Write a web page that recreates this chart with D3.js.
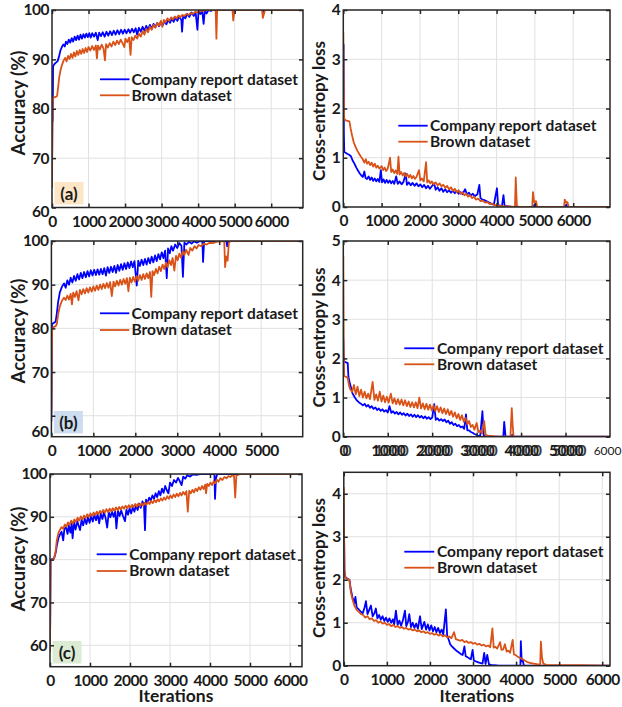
<!DOCTYPE html>
<html>
<head>
<meta charset="utf-8">
<script src="https://cdn.jsdelivr.net/npm/d3@7"></script>
<style>
  body { margin: 0; background: #fff; }
  svg text { font-family: Lato, "Open Sans", sans-serif; font-weight: bold; fill: #1a1a1a; }
</style>
</head>
<body>
<svg id="chart" width="622" height="707"></svg>
<script>
//series names + colours (legend order)
var seriesNames = ['Company report dataset', 'Brown dataset'];
var seriesColors = ['#0000ff', '#d95319'];

//tick values
var accTicks = [60, 70, 80, 90, 100];
var lossTicks4 = [0, 1, 2, 3, 4];
var lossTicks5 = [0, 1, 2, 3, 4, 5];
var iterTicks6 = [0, 1000, 2000, 3000, 4000, 5000, 6000];
var iterTicks5 = [0, 1000, 2000, 3000, 4000, 5000];
var iterTicksExtra = [6000];

//data: [iteration, value] --------------------------------------------------------

// (a) accuracy
var accACompany = [[0,64],[10,79],[20,77.5],[30,88.6],[60,89],[100,89.3],[150,89.6],[190,90.5],[230,91.8],[270,92.5],[310,93],[350,92.6],[380,93.6],[420,93.1],[460,94],[500,93.4],[540,94.3],[580,93.6],[620,94.6],[660,93.9],[700,94.8],[740,94],[780,95],[820,94.2],[860,95.1],[900,94.4],[940,95.2],[980,94.5],[1020,95.3],[1060,94.4],[1100,95.3],[1150,94.6],[1200,95.4],[1250,93.9],[1290,95.4],[1340,94.7],[1390,95.5],[1440,94.6],[1490,95.6],[1540,94.8],[1590,95.7],[1640,94.9],[1690,95.8],[1740,95],[1790,95.9],[1840,95.1],[1890,96],[1940,95.2],[1990,96],[2040,95.3],[2090,96.1],[2140,95.4],[2190,96.2],[2240,95.5],[2290,96.3],[2330,95],[2380,96.4],[2430,95.6],[2480,96.6],[2530,95.8],[2580,96.8],[2630,96],[2680,97],[2730,96.2],[2780,97.2],[2830,96.5],[2880,97.4],[2930,96.7],[2980,97.6],[3030,96.9],[3080,97.8],[3130,97.1],[3180,98],[3230,97.4],[3280,98.3],[3330,97.6],[3380,98.5],[3430,97.8],[3480,98.7],[3540,98],[3560,95.6],[3590,98.8],[3650,98.3],[3700,99.2],[3760,98.6],[3820,99.5],[3880,98.8],[3930,99.6],[3980,96],[4010,99.7],[4060,99.2],[4110,99.8],[4150,97.2],[4180,99.8],[4230,99.3],[4280,100],[4350,99.8],[4400,100],[4950,100],[4970,99.5],[5000,100],[5760,100],[5780,99.5],[5810,100],[6870,100]];
var accABrown = [[0,64],[10,75],[20,82],[60,82.3],[100,82.4],[140,82.6],[170,84.5],[200,86.5],[240,88],[280,89],[320,89.8],[360,90.3],[400,89.6],[440,90.7],[480,90.1],[520,91.1],[560,90.3],[600,91.4],[640,90.6],[680,91.7],[720,90.9],[760,91.9],[800,91.1],[840,92.1],[880,91.3],[920,92.3],[960,91.5],[1000,92.5],[1050,91.8],[1100,92.7],[1150,91.9],[1200,92.8],[1230,90.2],[1260,92.8],[1310,92],[1360,93],[1410,92.2],[1450,89.8],[1480,93.1],[1530,92.4],[1580,93.3],[1630,92.6],[1680,93.6],[1730,92.9],[1780,93.8],[1830,93.1],[1880,94],[1930,93.3],[1980,92.5],[2010,94.2],[2060,93.5],[2110,94.4],[2150,90.9],[2180,94.5],[2230,93.9],[2280,94.8],[2330,94.2],[2380,95.2],[2430,94.6],[2480,95.7],[2530,95],[2580,96.2],[2630,95.5],[2680,96.6],[2730,96],[2780,97],[2830,96.4],[2880,97.4],[2930,96.8],[2980,97.8],[3020,96.6],[3060,98],[3110,97.5],[3160,98.3],[3210,97.8],[3260,98.5],[3310,98.1],[3360,98.7],[3410,98.3],[3460,98.9],[3510,98.5],[3560,99],[3620,98.8],[3680,99.2],[3740,99],[3800,99.4],[3860,99.2],[3920,99.6],[3980,99.5],[4050,99.8],[4150,99.9],[4250,100],[4480,100],[4500,94.2],[4520,100],[4940,100],[4960,97.9],[4990,99.6],[5010,100],[5750,100],[5770,98.4],[5800,99.2],[5830,100],[6870,100]];

// (a) loss
var lossACompany = [[0,2.3],[8,3.3],[15,1.5],[25,1.12],[60,1.1],[100,1.08],[150,1.06],[200,1.03],[240,0.95],[290,0.88],[340,0.8],[390,0.73],[430,0.68],[470,0.64],[510,0.61],[550,0.72],[580,0.59],[620,0.57],[660,0.62],[700,0.55],[740,0.6],[780,0.53],[820,0.58],[860,0.52],[900,0.57],[940,0.51],[980,0.75],[1010,0.5],[1050,0.56],[1090,0.49],[1130,0.55],[1170,0.49],[1210,0.54],[1250,0.48],[1290,0.53],[1330,0.47],[1380,0.62],[1420,0.47],[1470,0.52],[1520,0.46],[1570,0.51],[1630,0.68],[1660,0.45],[1710,0.5],[1760,0.44],[1810,0.49],[1860,0.43],[1910,0.48],[1960,0.42],[2010,0.46],[2060,0.4],[2110,0.45],[2160,0.38],[2210,0.43],[2260,0.37],[2310,0.42],[2370,0.48],[2410,0.35],[2460,0.4],[2510,0.33],[2560,0.38],[2610,0.31],[2660,0.36],[2710,0.3],[2760,0.34],[2810,0.29],[2860,0.33],[2910,0.28],[2960,0.32],[3010,0.27],[3060,0.3],[3110,0.26],[3180,0.36],[3230,0.25],[3280,0.29],[3330,0.23],[3380,0.27],[3430,0.22],[3500,0.26],[3550,0.45],[3580,0.18],[3630,0.15],[3680,0.14],[3730,0.12],[3780,0.1],[3830,0.08],[3870,0.06],[3930,0.05],[4010,0.38],[4040,0.04],[4090,0.03],[4140,0.02],[4180,0.24],[4210,0.02],[4300,0.01],[4400,0],[4970,0],[4990,0.05],[5010,0],[5800,0],[5820,0.05],[5840,0],[6960,0]];
var lossABrown = [[0,3.55],[10,2.5],[20,1.8],[60,1.76],[110,1.75],[160,1.74],[190,1.6],[230,1.45],[270,1.32],[320,1.22],[370,1.14],[420,1.07],[460,1.02],[500,0.98],[550,0.9],[590,0.97],[620,0.88],[660,0.92],[700,0.85],[740,0.9],[780,0.82],[820,0.88],[860,0.8],[900,0.84],[940,0.78],[1000,0.83],[1040,0.75],[1080,0.8],[1120,0.73],[1160,0.78],[1220,1.0],[1250,0.71],[1290,0.76],[1330,0.69],[1370,0.74],[1410,0.67],[1440,1.02],[1470,0.66],[1510,0.71],[1550,0.64],[1590,0.69],[1630,0.62],[1670,0.67],[1710,0.6],[1750,0.65],[1790,0.58],[1830,0.63],[1870,0.57],[1910,0.61],[1975,0.75],[2010,0.54],[2050,0.58],[2100,0.52],[2160,0.91],[2190,0.5],[2230,0.54],[2270,0.48],[2310,0.52],[2360,0.46],[2410,0.5],[2460,0.44],[2510,0.48],[2560,0.42],[2610,0.45],[2660,0.39],[2710,0.43],[2760,0.36],[2810,0.4],[2860,0.33],[2910,0.37],[2960,0.3],[3010,0.34],[3060,0.27],[3110,0.3],[3160,0.24],[3210,0.27],[3260,0.21],[3310,0.24],[3360,0.18],[3410,0.21],[3460,0.15],[3520,0.17],[3580,0.12],[3640,0.13],[3700,0.09],[3760,0.1],[3820,0.06],[3880,0.07],[3940,0.04],[4000,0.04],[4100,0.02],[4200,0.01],[4300,0.01],[4480,0],[4500,0.6],[4530,0.02],[4600,0],[4930,0],[4950,0.3],[4980,0.1],[5030,0.12],[5060,0],[5760,0],[5780,0.15],[5820,0.09],[5850,0.1],[5880,0],[6960,0]];

// (b) accuracy
var accBCompany = [[0,58.7],[8,70],[15,81],[50,81.2],[100,81.5],[130,83.5],[160,86],[200,88.2],[250,89.5],[300,90.3],[340,89.3],[380,91],[420,90],[460,91.6],[500,90.5],[540,92],[580,90.9],[620,92.4],[660,91.2],[700,92.7],[740,91.5],[780,92.9],[820,91.7],[860,93.1],[900,91.9],[940,93.3],[980,92.1],[1020,93.4],[1060,92.2],[1100,93.5],[1140,92.3],[1180,93.6],[1220,92.4],[1260,93.8],[1300,92.1],[1340,94],[1380,92.7],[1420,94.1],[1460,92.9],[1500,94.3],[1540,92.7],[1580,94.5],[1620,93.2],[1660,94.7],[1700,93.4],[1740,94.9],[1780,93.6],[1820,95.1],[1860,93.8],[1900,95.3],[1940,94],[1980,95.4],[2035,89.8],[2070,95.5],[2110,94.3],[2150,95.7],[2190,94.5],[2230,95.9],[2270,94.6],[2310,96.1],[2350,94.9],[2390,96.4],[2430,95.1],[2470,96.7],[2510,95.4],[2550,97],[2590,95.8],[2630,97.4],[2670,96.1],[2710,97.8],[2750,91.5],[2780,98.3],[2820,97.2],[2860,98.8],[2900,97.8],[2950,99.2],[3000,98.4],[3050,99.5],[3100,98.9],[3135,91.8],[3170,99.6],[3220,99.2],[3280,99.8],[3340,99.4],[3400,99.9],[3470,99.6],[3540,100],[3600,99.8],[3615,95.2],[3640,100],[4170,100],[4190,98.8],[4210,100],[5990,100]];
var accBBrown = [[0,60.6],[8,70],[15,79.5],[50,80.3],[100,80.5],[130,81],[160,83.2],[200,85],[250,86.3],[300,87],[340,86.5],[380,87.5],[420,86.6],[460,87.9],[490,85.5],[520,88.2],[560,87.2],[600,88.5],[645,86.4],[680,88.8],[720,87.8],[760,89],[800,88],[840,89.2],[880,88.2],[920,89.4],[960,88.4],[1000,89.6],[1040,88.6],[1080,89.8],[1120,88.8],[1160,90],[1200,89],[1240,90.2],[1280,89.2],[1320,90.4],[1360,89.3],[1400,90.6],[1440,87.4],[1480,90.7],[1520,89.6],[1560,90.9],[1600,89.8],[1640,91.1],[1680,90],[1720,91.3],[1760,90.2],[1800,91.5],[1835,88.5],[1870,91.6],[1910,90.5],[1950,91.8],[1990,90.7],[2030,92],[2070,90.9],[2110,92.2],[2150,91.1],[2190,92.4],[2230,91.3],[2270,92.6],[2310,91.5],[2350,92.9],[2380,87.2],[2410,93.1],[2450,92.2],[2490,93.6],[2530,92.6],[2570,94.1],[2610,93.1],[2650,94.6],[2690,93.6],[2730,95.1],[2770,94],[2810,95.6],[2850,94.5],[2890,96.1],[2930,93.2],[2970,96.6],[3010,95.6],[3050,97.1],[3090,96.2],[3130,97.6],[3170,96.8],[3210,98],[3270,96.8],[3310,98.4],[3360,97.8],[3410,98.8],[3460,98.3],[3510,99.1],[3570,98.8],[3630,99.4],[3700,99.2],[3770,99.6],[3850,99.5],[3930,99.8],[4020,99.9],[4120,100],[4140,94],[4170,96.5],[4200,95.5],[4230,99.5],[4260,100],[5990,100]];

// (b) loss
var lossBCompany = [[0,2.5],[8,2.1],[20,1.92],[60,1.9],[100,1.88],[115,1.53],[150,1.35],[210,1.1],[260,1.0],[310,0.92],[360,0.87],[400,0.84],[440,0.8],[480,0.84],[520,0.77],[560,0.81],[600,0.74],[640,0.78],[680,0.71],[720,0.75],[760,0.68],[800,0.72],[840,0.66],[880,0.7],[920,0.64],[960,0.68],[1000,0.62],[1040,0.78],[1080,0.61],[1120,0.65],[1160,0.59],[1200,0.63],[1240,0.57],[1280,0.62],[1320,0.56],[1360,0.6],[1400,0.54],[1440,0.59],[1480,0.53],[1520,0.57],[1560,0.51],[1600,0.56],[1640,0.5],[1680,0.55],[1720,0.49],[1760,0.53],[1800,0.47],[1840,0.52],[1880,0.46],[1920,0.5],[1960,0.45],[2000,0.49],[2045,0.83],[2080,0.43],[2120,0.47],[2160,0.41],[2200,0.45],[2240,0.4],[2280,0.44],[2320,0.37],[2360,0.41],[2400,0.33],[2440,0.37],[2480,0.3],[2520,0.33],[2560,0.27],[2600,0.3],[2640,0.24],[2680,0.26],[2720,0.2],[2760,0.57],[2790,0.16],[2830,0.16],[2870,0.12],[2910,0.1],[2950,0.07],[2990,0.05],[3030,0.03],[3080,0.02],[3130,0.65],[3160,0.02],[3200,0.01],[3300,0],[3600,0],[3620,0.38],[3650,0],[3790,0],[3800,0.05],[3820,0],[6000,0]];
var lossBBrown = [[0,4.62],[5,3.4],[10,2.2],[20,1.55],[60,1.53],[100,1.5],[130,1.3],[160,1.2],[200,1.15],[240,1.32],[280,1.08],[320,1.28],[360,1.04],[400,1.2],[440,1.0],[480,1.15],[520,0.98],[560,1.1],[600,0.96],[660,1.4],[700,0.94],[740,1.08],[780,0.92],[820,1.15],[860,0.9],[900,1.05],[940,0.88],[980,1.02],[1020,0.87],[1070,1.1],[1110,0.85],[1150,0.98],[1190,0.83],[1230,0.96],[1270,0.82],[1310,0.95],[1350,0.8],[1390,0.93],[1430,0.78],[1470,0.9],[1510,0.76],[1550,0.88],[1590,0.75],[1630,0.88],[1670,0.73],[1710,1.0],[1750,0.72],[1790,0.85],[1830,0.7],[1870,0.84],[1910,0.69],[1950,0.82],[1990,0.67],[2030,0.8],[2070,0.65],[2110,0.78],[2150,0.63],[2190,0.75],[2230,0.6],[2270,0.72],[2310,0.58],[2350,0.7],[2390,0.55],[2430,0.66],[2470,0.51],[2510,0.62],[2550,0.47],[2590,0.58],[2630,0.43],[2670,0.55],[2710,0.38],[2750,0.48],[2790,0.32],[2830,0.4],[2870,0.25],[2910,0.3],[2950,0.18],[3000,0.35],[3040,0.12],[3080,0.15],[3120,0.08],[3170,0.4],[3200,0.05],[3250,0.03],[3320,0.02],[3400,0.01],[3500,0],[3760,0],[3790,0.73],[3810,0.3],[3830,0],[6000,0]];

// (c) accuracy
var accCCompany = [[0,58.6],[8,70],[15,80],[50,80.1],[100,80.3],[140,81.5],[170,83.2],[210,85],[250,85.9],[290,86.5],[330,84.5],[360,87.2],[400,87.6],[440,86],[470,88],[510,86.3],[540,88.4],[565,85],[600,88.7],[640,87],[680,89],[720,87.8],[750,86.9],[790,89.3],[830,88],[870,89.6],[910,88.3],[950,89.9],[990,88.6],[1030,90.2],[1070,88.9],[1110,90.4],[1150,89.2],[1190,90.6],[1230,88.5],[1270,90.8],[1310,89.5],[1350,91],[1390,89.7],[1430,87.5],[1470,91.1],[1510,89.9],[1550,91.2],[1590,90],[1630,91.3],[1660,87.3],[1700,91.4],[1740,90.2],[1780,91.5],[1820,90.3],[1875,89],[1910,91.7],[1950,90.5],[1990,92],[2030,90.8],[2070,92.3],[2110,91.2],[2150,92.7],[2190,91.6],[2230,93.1],[2270,92.1],[2310,93.6],[2350,92.6],[2375,86.9],[2400,94],[2440,93.2],[2480,94.5],[2520,93.8],[2560,95],[2600,94.2],[2640,95.5],[2680,94.6],[2720,96],[2760,95],[2800,96.6],[2840,95.6],[2880,97.2],[2920,96.2],[2960,95.5],[3000,98],[3050,97.2],[3100,98.6],[3150,98],[3200,99.1],[3250,98.2],[3290,97.4],[3330,99.4],[3380,98.9],[3430,99.7],[3500,99.4],[3570,99.9],[3650,99.8],[3750,100],[4110,100],[4125,94.2],[4150,99],[4180,100],[6300,100]];
var accCBrown = [[0,58.5],[8,70],[15,79.8],[50,80],[100,80.2],[140,82],[170,84.5],[210,86.2],[250,87],[290,87.6],[330,87.2],[370,88.2],[410,87.7],[450,88.7],[490,88.1],[530,89.1],[570,88.4],[610,89.4],[650,88.8],[690,89.8],[730,89.1],[770,90.1],[810,89.4],[850,90.3],[890,89.7],[930,90.6],[970,90],[1010,90.8],[1050,90.2],[1090,91],[1130,90.4],[1170,91.2],[1210,90.6],[1250,91.4],[1290,90.8],[1330,91.6],[1370,91],[1410,91.8],[1450,91.1],[1490,91.9],[1530,91.3],[1570,92],[1610,91.4],[1650,92.2],[1690,91.6],[1730,92.3],[1770,91.7],[1810,92.4],[1850,91.9],[1890,92.6],[1930,92],[1970,92.7],[2010,92.1],[2050,92.8],[2090,92.2],[2130,93],[2170,92.4],[2210,93.1],[2250,92.5],[2290,93.2],[2330,92.6],[2370,93.3],[2410,92.8],[2450,93.5],[2490,93],[2530,93.7],[2570,93.2],[2610,93.9],[2650,93.4],[2690,94.1],[2730,93.6],[2770,94.3],[2810,93.8],[2850,94.5],[2890,94],[2930,94.8],[2970,94.2],[3010,95],[3050,94.4],[3090,95.2],[3130,94.6],[3170,95.4],[3210,94.8],[3250,95.6],[3290,95],[3330,95.8],[3370,95.2],[3410,96],[3445,91.2],[3480,96.1],[3520,95.5],[3560,96.3],[3600,95.7],[3640,96.6],[3680,96],[3720,96.9],[3760,96.3],[3800,97.2],[3840,96.5],[3880,97.5],[3900,95.5],[3930,97.7],[3970,97.2],[4010,98],[4050,97.4],[4090,98.3],[4130,97.8],[4170,98.7],[4210,98.2],[4260,99],[4310,98.6],[4360,99.3],[4410,99],[4460,99.5],[4510,99.3],[4560,99.7],[4600,99.6],[4630,94.5],[4660,99.7],[4700,99.8],[4760,100],[6300,100]];

// (c) loss
var lossCCompany = [[0,2.37],[8,2.9],[15,2.2],[40,2.05],[80,2.03],[130,2.0],[165,1.76],[200,1.6],[245,1.45],[270,1.6],[300,1.35],[340,1.32],[400,1.25],[440,1.22],[480,1.35],[515,1.5],[550,1.2],[590,1.3],[630,1.4],[670,1.15],[710,1.22],[745,1.33],[780,1.1],[820,1.18],[860,1.07],[900,1.15],[940,1.04],[980,1.12],[1020,1.02],[1060,1.1],[1100,1.0],[1140,1.08],[1170,0.96],[1210,1.28],[1250,0.95],[1290,1.05],[1330,0.93],[1370,1.05],[1420,1.28],[1450,0.92],[1490,1.02],[1520,1.2],[1560,0.9],[1600,1.0],[1640,0.88],[1680,0.98],[1720,0.86],[1770,1.15],[1810,0.85],[1870,1.02],[1910,0.84],[1950,0.96],[1990,0.82],[2030,0.94],[2070,0.8],[2110,0.9],[2150,0.78],[2190,0.88],[2230,0.76],[2270,0.84],[2310,0.73],[2370,1.31],[2400,0.7],[2430,0.62],[2470,0.5],[2510,0.45],[2560,0.4],[2600,0.36],[2640,0.33],[2680,0.3],[2720,0.27],[2760,0.25],[2800,0.45],[2830,0.22],[2870,0.2],[2910,0.17],[2950,0.15],[2990,0.37],[3020,0.12],[3060,0.1],[3100,0.09],[3140,0.07],[3180,0.06],[3220,0.05],[3260,0.3],[3290,0.04],[3330,0.25],[3370,0.03],[3420,0.02],[3490,0.01],[3600,0],[4100,0],[4110,0.57],[4130,0.1],[4150,0.15],[4180,0],[6180,0]];
var lossCBrown = [[0,4.15],[8,3.0],[15,2.2],[40,2.05],[80,2.02],[130,2.0],[165,1.7],[200,1.55],[245,1.4],[300,1.3],[350,1.25],[400,1.2],[450,1.18],[500,1.12],[550,1.15],[600,1.08],[650,1.1],[700,1.04],[750,1.06],[800,1.0],[850,1.03],[900,0.98],[950,1.0],[1000,0.95],[1050,0.97],[1100,0.92],[1150,0.95],[1200,0.9],[1250,0.92],[1300,0.88],[1350,0.9],[1400,0.86],[1450,0.88],[1500,0.84],[1550,0.86],[1600,0.82],[1650,0.84],[1700,0.8],[1750,0.82],[1800,0.78],[1850,0.8],[1900,0.76],[1950,0.78],[2000,0.74],[2050,0.76],[2100,0.72],[2150,0.74],[2200,0.7],[2250,0.73],[2300,0.68],[2350,0.71],[2400,0.66],[2450,0.68],[2500,0.64],[2560,0.78],[2600,0.62],[2650,0.6],[2700,0.58],[2750,0.6],[2800,0.55],[2850,0.57],[2900,0.53],[2950,0.55],[3000,0.51],[3050,0.53],[3100,0.49],[3150,0.51],[3200,0.47],[3250,0.49],[3300,0.45],[3350,0.47],[3400,0.43],[3450,0.87],[3480,0.42],[3520,0.44],[3560,0.4],[3630,0.55],[3660,0.37],[3700,0.38],[3740,0.5],[3780,0.33],[3820,0.35],[3860,0.3],[3920,0.6],[3950,0.26],[4000,0.24],[4050,0.2],[4100,0.18],[4150,0.15],[4200,0.12],[4250,0.09],[4300,0.07],[4350,0.06],[4400,0.05],[4450,0.04],[4500,0.03],[4560,0.03],[4575,0.56],[4600,0.2],[4630,0.05],[4700,0.02],[4800,0.015],[5000,0.01],[5500,0.01],[6180,0]];

//panel layout ------------------------------------------------------------
// box = [left, right, top, bottom] in px
var panels = [
  { box: [52, 303, 10, 207.5], xMax: 6870, yDom: [60, 100], yTicks: accTicks, xTicks: iterTicks6,
    series: [accACompany, accABrown], yTitle: 'Accuracy (%)', titleSize: 18.5, titlePos: [18.5, 103],
    legend: { x1: 100, x2: 129.5, tx: 131.5, y1: 79.3, y2: 95.3 },
    tag: { text: '(a)', fill: '#fce6c6', y: 182 }, yNudge: { 60: 4 } },
  { box: [343.3, 610, 10, 207], xMax: 6960, yDom: [0, 4], yTicks: lossTicks4, xTicks: iterTicks6,
    series: [lossACompany, lossABrown], yTitle: 'Cross-entropy loss', titleSize: 17, titlePos: [319.5, 111],
    legend: { x1: 398.3, x2: 427.7, tx: 430, y1: 125.7, y2: 141.7 } },
  { box: [51.4, 302.7, 241, 436.7], xMax: 5990, yDom: [55.2, 100], yTicks: accTicks, xTicks: iterTicks5,
    series: [accBCompany, accBBrown], yTitle: 'Accuracy (%)', titleSize: 18.5, titlePos: [18.5, 331],
    legend: { x1: 100, x2: 129.3, tx: 131.5, y1: 313.3, y2: 330 },
    tag: { text: '(b)', fill: '#cddcef', y: 411 }, yNudge: { 60: 16 } },
  { box: [343.3, 610, 241, 436.7], xMax: 6000, yDom: [0, 5], yTicks: lossTicks5, xTicks: iterTicks5,
    series: [lossBCompany, lossBBrown], yTitle: 'Cross-entropy loss', titleSize: 17, titlePos: [319.5, 337.5],
    legend: { x1: 404.3, x2: 434.3, tx: 437, y1: 348.3, y2: 364.3 },
    ghostShift: 3, extraTicks: iterTicksExtra },
  { box: [50, 302, 474, 666.7], xMax: 6300, yDom: [55, 100], yTicks: accTicks, xTicks: iterTicks6,
    series: [accCCompany, accCBrown], yTitle: 'Accuracy (%)', titleSize: 18.5, titlePos: [18.5, 559],
    legend: { x1: 96.7, x2: 126.7, tx: 129.3, y1: 554.3, y2: 571 },
    tag: { text: '(c)', fill: '#dcebd4', y: 641 }, xTitle: 'Iterations' },
  { box: [343.8, 610, 472.3, 665.7], xMax: 6180, yDom: [0, 4.5], yTicks: lossTicks4, xTicks: iterTicks6,
    series: [lossCCompany, lossCBrown], yTitle: 'Cross-entropy loss', titleSize: 17, titlePos: [319.5, 568],
    legend: { x1: 404.3, x2: 434.3, tx: 437, y1: 551.7, y2: 567.7 }, xTitle: 'Iterations' }
];

var svg = d3.select('#chart');
var frameColor = '#262626';
var fmt = d3.format('d');

//draw one panel
var drawPanel = function(p, i) {
  var L = p.box[0], R = p.box[1], T = p.box[2], B = p.box[3];
  var x = d3.scaleLinear().domain([0, p.xMax]).range([L, R]);
  var y = d3.scaleLinear().domain(p.yDom).range([B, T]);
  var yT = p.yTicks.filter(function(t){ return t >= p.yDom[0]; });
  var g = svg.append('g');

  //grid
  g.selectAll('.vgrid').data(p.xTicks.filter(function(t){ return t > 0 && t < p.xMax; }))
    .enter().append('line')
      .attr('x1', x).attr('x2', x).attr('y1', T).attr('y2', B)
      .attr('stroke', '#e0e0e0').attr('stroke-width', 1);
  g.selectAll('.hgrid').data(p.yTicks.filter(function(t){ return t > p.yDom[0] && t < p.yDom[1]; }))
    .enter().append('line')
      .attr('y1', y).attr('y2', y).attr('x1', L).attr('x2', R)
      .attr('stroke', '#e0e0e0').attr('stroke-width', 1);

  //clip
  svg.append('clipPath').attr('id', 'clip' + i)
    .append('rect').attr('x', L).attr('y', T).attr('width', R - L).attr('height', B - T);

  var line = d3.line().x(function(d){ return x(d[0]); }).y(function(d){ return y(d[1]); });
  g.append('g').attr('clip-path', 'url(#clip' + i + ')')
    .selectAll('path').data(p.series)
    .enter().append('path')
      .attr('d', line)
      .attr('fill', 'none')
      .attr('stroke', function(d, k){ return seriesColors[k]; })
      .attr('stroke-width', 1.8)
      .attr('stroke-linejoin', 'round');

  //tag box (a)/(b)/(c)
  if (p.tag) {
    g.append('rect').attr('x', L + 2.5).attr('y', p.tag.y).attr('width', 29).attr('height', 22.5)
      .attr('fill', p.tag.fill);
    g.append('text').attr('x', L + 17).attr('y', p.tag.y + 17.5)
      .attr('text-anchor', 'middle').style('font-size', '17px').text(p.tag.text);
  }

  //frame
  g.append('rect').attr('x', L).attr('y', T).attr('width', R - L).attr('height', B - T)
    .attr('fill', 'none').attr('stroke', frameColor).attr('stroke-width', 1.5);

  //axes (inward ticks on all sides)
  var ax = function(axis, tr) {
    var a = g.append('g').attr('transform', tr).call(axis);
    a.select('.domain').remove();
    a.selectAll('.tick line').attr('stroke', frameColor).attr('stroke-width', 1.5);
    a.selectAll('text').style('font-size', '15.5px').style('letter-spacing', '-0.5px').attr('fill', '#1a1a1a');
    return a;
  };
  ax(d3.axisBottom(x).tickValues(p.xTicks).tickSizeInner(-4).tickSizeOuter(0).tickPadding(8)
    .tickFormat(fmt), 'translate(0,' + B + ')');
  var yl = ax(d3.axisLeft(y).tickValues(yT).tickSizeInner(-4).tickSizeOuter(0).tickPadding(3)
    .tickFormat(fmt), 'translate(' + L + ',0)');
  ax(d3.axisTop(x).tickValues(p.xTicks).tickSizeInner(-4).tickSizeOuter(0).tickFormat(''), 'translate(0,' + T + ')');
  ax(d3.axisRight(y).tickValues(yT).tickSizeInner(-4).tickSizeOuter(0).tickFormat(''), 'translate(' + R + ',0)');

  if (p.yNudge) {
    yl.selectAll('.tick text').attr('y', function(d){ return p.yNudge[d] || 0; });
  }

  //doubled labels seen in panel (b) loss
  if (p.ghostShift) {
    var gh = ax(d3.axisBottom(x).tickValues(p.xTicks).tickSize(0).tickPadding(8).tickFormat(fmt),
      'translate(' + p.ghostShift + ',' + B + ')');
    gh.selectAll('text').attr('opacity', 0.85);
  }
  if (p.extraTicks) {
    g.selectAll('.extra').data(p.extraTicks).enter().append('text')
      .attr('x', function(d){ return x(d) + 11.5; }).attr('y', B + 18.5).attr('text-anchor', 'end')
      .style('font-size', '12px').style('font-weight', 'normal').text(fmt);
  }

  //axis titles
  g.append('text')
    .attr('transform', 'translate(' + p.titlePos[0] + ',' + p.titlePos[1] + ') rotate(-90)')
    .attr('text-anchor', 'middle').attr('dy', '0.35em')
    .style('font-size', p.titleSize + 'px').text(p.yTitle);
  if (p.xTitle) {
    g.append('text').attr('x', (L + R) / 2).attr('y', 702)
      .attr('text-anchor', 'middle').style('font-size', '17.5px').text(p.xTitle);
  }

  //legend
  var lg = p.legend;
  [lg.y1, lg.y2].forEach(function(yy, k) {
    g.append('line').attr('x1', lg.x1).attr('x2', lg.x2).attr('y1', yy).attr('y2', yy)
      .attr('stroke', seriesColors[k]).attr('stroke-width', 1.8);
    g.append('text').attr('x', lg.tx).attr('y', yy).attr('dy', '0.35em')
      .style('font-size', '15.5px').text(seriesNames[k]);
  });
};

panels.forEach(drawPanel);
</script>
</body>
</html>
